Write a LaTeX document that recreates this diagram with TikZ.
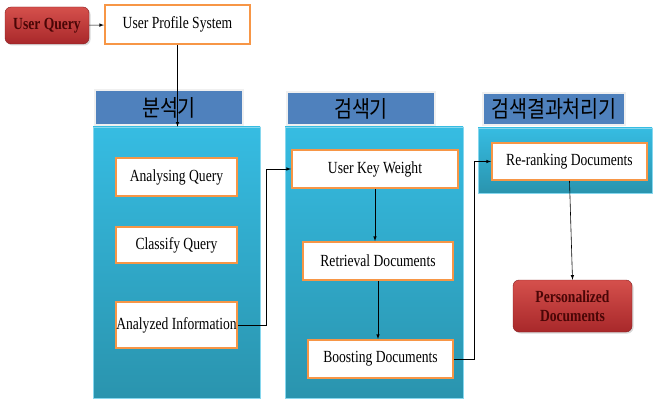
\documentclass[tikz,border=0pt]{standalone}
\usepackage{fontspec}
\setmainfont{Liberation Serif}[FakeStretch=0.8]
\newfontfamily\krfont{Noto Sans CJK KR}[FakeStretch=0.85]
\usepackage{tikz}
\usetikzlibrary{arrows,calc,shadows}
\usetikzlibrary{positioning,shapes}

\definecolor{boxorange}{HTML}{F79646}
\definecolor{headblue}{HTML}{4F81BD}
\definecolor{paneltop}{HTML}{36BCE2}
\definecolor{panelbot}{HTML}{2A94AE}
\definecolor{redtop}{HTML}{D5504C}
\definecolor{redbot}{HTML}{A8282A}
\definecolor{redtext}{HTML}{4A0606}

\tikzset{
  panel/.style={rectangle, inner sep=0pt, top color=paneltop, bottom color=panelbot,
    draw=paneltop!60!white, line width=0.6pt},
  header/.style={rectangle, inner sep=0pt, fill=headblue, draw=white!88!gray,
    line width=1.5pt, font=\krfont\fontsize{23}{25}\selectfont},
  stepbox/.style={rectangle, inner sep=0pt, fill=white, draw=boxorange,
    line width=2pt, minimum height=38pt, font=\fontsize{17}{19}\selectfont},
  endbox/.style={rectangle, rounded corners=6pt, inner sep=0pt, top color=redtop,
    bottom color=redbot, draw=redbot!80!black, line width=0.4pt, text=redtext,
    align=center, font=\bfseries\fontsize{17}{19}\selectfont,
    drop shadow={opacity=0.3, shadow xshift=1.5pt, shadow yshift=-1.5pt}},
  link/.style={-latex, line width=0.6pt}
}

\begin{document}
\begin{tikzpicture}[x=1pt,y=-1pt]
\useasboundingbox (0,0) rectangle (654,401);

% the three stages
\draw (176.5,262.5) node[panel, minimum width=167pt, minimum height=271pt] (pa) {};
\draw (374,262.5) node[panel, minimum width=178pt, minimum height=271pt] (pb) {};
\draw (565,160.5) node[panel, minimum width=174pt, minimum height=65pt] (pc) {};
\draw (169,107.5) node[header, minimum width=148pt, minimum height=35pt] (ha) {분석기};
\draw (361,108.5) node[header, minimum width=148pt, minimum height=33pt] (hb) {검색기};
\draw (554,109) node[header, minimum width=142pt, minimum height=32pt] (hc) {검색결과처리기};

% input side
\draw (47,25.5) node[endbox, minimum width=84pt, minimum height=37pt] (uq) {User Query};
\draw (177.5,24.5) node[stepbox, minimum width=145pt, minimum height=39pt] (ups) {User Profile System};
\draw [link] (uq) -- (ups);
\draw [link] (ups.south) -- (ups.south |- pa.north);

% analyser
\draw (176.5,177) node[stepbox, minimum width=121pt] (aq) {Analysing Query};
\draw (176.5,245) node[stepbox, minimum width=121pt, minimum height=36pt] (cq) {Classify Query};
\draw (176.5,325) node[stepbox, minimum width=121pt, minimum height=46pt] (ai) {Analyzed Information};

% searcher
\draw (375,169) node[stepbox, minimum width=166pt] (ukw) {User Key Weight};
\draw (378,261) node[stepbox, minimum width=150pt] (rd) {Retrieval Documents};
\draw (380.5,359) node[stepbox, minimum width=145pt] (bd) {Boosting Documents};
\draw [link] (ai.east) -- ++(28,0) |- (ukw.west);
\draw [link] (ukw.south) -- (ukw.south |- rd.north);
\draw [link] (rd.south) -- (rd.south |- bd.north);

% result handling
\draw (569.5,161.5) node[stepbox, minimum width=155pt, minimum height=37pt] (rr) {Re-ranking Documents};
\draw (572.5,306) node[endbox, minimum width=119pt, minimum height=52pt] (pd) {Personalized\\Documents};
\draw [link] (bd.east) -- ++(20,0) |- (rr.west);
\draw [link] (rr.south) -- (pd.north);
\end{tikzpicture}
\end{document}
